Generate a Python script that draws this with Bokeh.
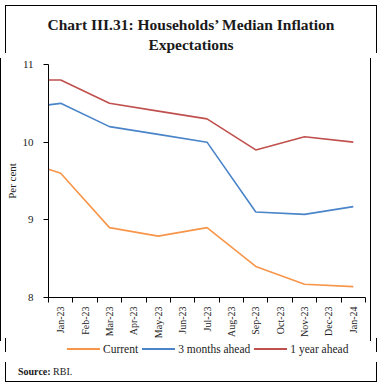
import math
from bokeh.plotting import figure
from bokeh.models import Div, FixedTicker
from bokeh.layouts import column
from bokeh.embed import file_html
from bokeh.resources import INLINE

# ---- data ----
months = ["Jan-23", "Feb-23", "Mar-23", "Apr-23", "May-23", "Jun-23", "Jul-23",
          "Aug-23", "Sep-23", "Oct-23", "Nov-23", "Dec-23", "Jan-24"]
round_month = [-0.5, 0, 2, 4, 6, 8, 10, 12]   # month index of each survey round
current = [9.65, 9.60, 8.90, 8.79, 8.90, 8.40, 8.17, 8.14]
three_months = [10.48, 10.50, 10.20, 10.10, 10.00, 9.10, 9.07, 9.17]
one_year = [10.80, 10.80, 10.50, 10.40, 10.30, 9.90, 10.07, 10.00]
y_ticks = [8, 9, 10, 11]
series_names = ["Current", "3 months ahead", "1 year ahead"]
colors = ["#F7964A", "#4A84C9", "#C0504D"]

SERIF = "Liberation Serif"
BORDER = "1px solid #000"

xs = [m + 0.5 for m in round_month]
centers = [i + 0.5 for i in range(len(months))]
bounds = [float(i) for i in range(len(months) + 1)]

W = 370
p = figure(frame_width=315, frame_height=233, x_range=(0, len(months)), y_range=(8, 11),
           output_backend="svg", toolbar_location=None,
           min_border_left=47, min_border_right=7, min_border_top=6,
           min_border_bottom=0,
           styles={"border-left": BORDER, "border-right": BORDER})
p.title = None
p.outline_line_color = None
p.xgrid.grid_line_color = None
p.ygrid.grid_line_color = None
p.background_fill_color = "white"
p.border_fill_color = "white"

for vals, c in zip([current, three_months, one_year], colors):
    p.line(xs, vals, line_color=c, line_width=1.6)

# x axis: labels at month centres, tick marks on boundaries
xa = p.xaxis[0]
xa.ticker = FixedTicker(ticks=centers, minor_ticks=bounds)
xa.major_label_overrides = {c: m for c, m in zip(centers, months)}
xa.major_tick_line_color = None
xa.minor_tick_line_color = "black"
xa.minor_tick_out = 5
xa.minor_tick_in = 0
xa.axis_line_color = "black"
xa.major_label_orientation = math.pi / 2
xa.major_label_text_font = SERIF
xa.major_label_text_font_size = "10px"
xa.major_label_text_color = "#222222"
xa.major_label_standoff = 3

ya = p.yaxis[0]
ya.ticker = FixedTicker(ticks=y_ticks, minor_ticks=[])
ya.major_tick_out = 5
ya.major_tick_in = 0
ya.major_tick_line_color = "black"
ya.axis_line_color = "black"
ya.major_label_text_font = SERIF
ya.major_label_text_font_size = "11px"
ya.major_label_text_color = "#222222"
ya.major_label_standoff = 10
ya.axis_label = "Per cent"
ya.axis_label_text_font = SERIF
ya.axis_label_text_font_size = "11px"
ya.axis_label_text_font_style = "normal"
ya.axis_label_text_color = "#222222"
ya.axis_label_standoff = 2

# legend (HTML, one entry per series)
legend_html = "".join(
    f'<span style="display:inline-flex;align-items:center;margin-right:4px;">'
    f'<span style="display:inline-block;width:33px;height:0;border-top:2px solid {c};'
    f'margin-right:3px;"></span>{n}</span>'
    for n, c in zip(series_names, colors))
legend_div = Div(text=legend_html, width=W + 2, height=14,
                 styles={"font-family": SERIF, "font-size": "11.5px", "color": "#222222",
                         "padding-left": "61px", "padding-top": "0px",
                         "margin-top": "-3px",
                         "box-sizing": "border-box", "background-color": "transparent",
                         "white-space": "nowrap",
                         "border-left": BORDER, "border-right": BORDER})

title = Div(text="Chart III.31: Households\u2019 Median Inflation<br>Expectations",
            width=W + 2, height=48,
            styles={"text-align": "center", "font-family": SERIF, "font-weight": "bold",
                    "font-size": "15.5px", "line-height": "20px", "color": "#1a1a1a",
                    "padding-top": "9px", "box-sizing": "border-box",
                    "background-color": "white",
                    "border-top": BORDER, "border-left": BORDER, "border-right": BORDER})

source = Div(text="<b>Source:</b> RBI.", width=W + 2, height=20,
             styles={"font-family": SERIF, "font-size": "10px", "color": "#1a1a1a",
                     "padding-left": "12px", "padding-top": "3px",
                     "box-sizing": "border-box", "background-color": "white",
                     "border-left": BORDER, "border-right": BORDER,
                     "border-bottom": BORDER})

layout = column(title, p, legend_div, source, spacing=0)

open("out.html", "w").write(file_html(layout, INLINE))
